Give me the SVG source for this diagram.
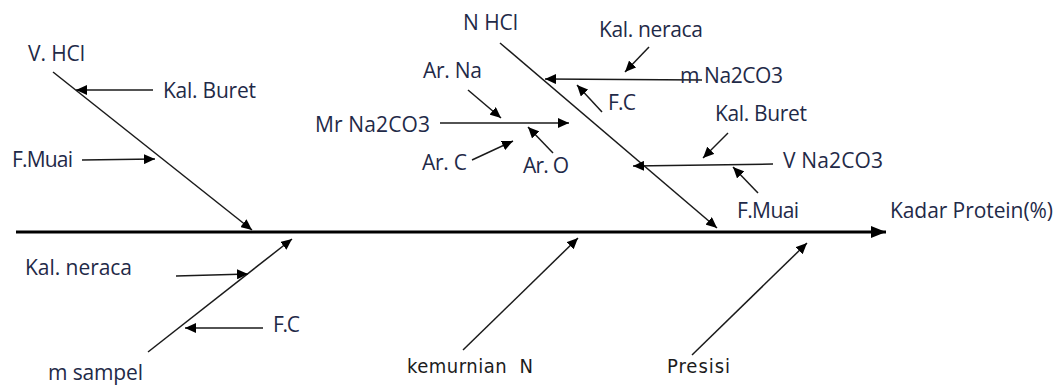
<svg xmlns="http://www.w3.org/2000/svg" width="1063" height="385" viewBox="0 0 1063 385">
<style>
text{font-family:"Open Sans","Liberation Sans",Arial,sans-serif;font-size:21px;fill:#1f2a48}
.b{font-family:"DejaVu Sans Condensed","Liberation Sans Narrow","Liberation Sans",sans-serif;fill:#1c1c1c;font-size:20px}
.c{stroke:#1a1a1a;stroke-width:1.5;fill:none;marker-end:url(#ah)}
.spine{stroke:#000;stroke-width:3;fill:none;marker-end:url(#big)}
</style>
<defs>
<marker id="ah" markerUnits="userSpaceOnUse" markerWidth="12" markerHeight="10" refX="11" refY="5" orient="auto">
<path d="M0,0 L11,5 L0,10 z" fill="#000"/>
</marker>
<marker id="big" markerUnits="userSpaceOnUse" markerWidth="16" markerHeight="12" refX="15" refY="6" orient="auto">
<path d="M0,0 L15,6 L0,12 z" fill="#000"/>
</marker>
</defs>
<rect width="1063" height="385" fill="#fff"/>
<g id="connectors">
<line class="spine" x1="16" y1="232" x2="886" y2="232"/>
<line class="c" x1="53" y1="72" x2="252" y2="230"/>
<line class="c" x1="153" y1="90" x2="76" y2="90"/>
<line class="c" x1="82" y1="160" x2="155" y2="159"/>
<line class="c" x1="500" y1="43" x2="717" y2="228"/>
<line class="c" x1="702" y1="80" x2="545" y2="79"/>
<line class="c" x1="649" y1="47" x2="625" y2="72"/>
<line class="c" x1="602" y1="112" x2="577" y2="85"/>
<line class="c" x1="440" y1="123" x2="569" y2="123"/>
<line class="c" x1="468" y1="90" x2="501" y2="118"/>
<line class="c" x1="472" y1="160" x2="513" y2="141"/>
<line class="c" x1="553" y1="153" x2="528" y2="127"/>
<line class="c" x1="773" y1="164" x2="633" y2="166"/>
<line class="c" x1="728" y1="133" x2="703" y2="158"/>
<line class="c" x1="758" y1="193" x2="733" y2="167"/>
<line class="c" x1="148" y1="352" x2="292" y2="239"/>
<line class="c" x1="176" y1="276" x2="248" y2="274"/>
<line class="c" x1="263" y1="328" x2="185" y2="328"/>
<line class="c" x1="463" y1="350" x2="578" y2="238"/>
<line class="c" x1="692" y1="355" x2="807" y2="243"/>
</g>
<g id="n-vhcl"><text x="28" y="61" textLength="57">V. HCl</text></g>
<g id="n-kalburet-l"><text x="163" y="98" textLength="93">Kal. Buret</text></g>
<g id="n-fmuai-l"><text x="12" y="167" textLength="61">F.Muai</text></g>
<g id="n-nhcl"><text x="463" y="30" textLength="55">N HCl</text></g>
<g id="n-kalneraca-t"><text x="599" y="37" textLength="104">Kal. neraca</text></g>
<g id="n-mna2co3"><text x="680" y="83" textLength="103">m Na2CO3</text></g>
<g id="n-fc-t"><text x="608" y="110" textLength="28">F.C</text></g>
<g id="n-arna"><text x="423" y="78" textLength="59">Ar. Na</text></g>
<g id="n-mrna2co3"><text x="315" y="132" textLength="115">Mr Na2CO3</text></g>
<g id="n-arc"><text x="422" y="170" textLength="45">Ar. C</text></g>
<g id="n-aro"><text x="523" y="173" textLength="46">Ar. O</text></g>
<g id="n-kalburet-r"><text x="715" y="121" textLength="92">Kal. Buret</text></g>
<g id="n-vna2co3"><text x="783" y="168" textLength="100">V Na2CO3</text></g>
<g id="n-fmuai-r"><text x="737" y="218" textLength="62">F.Muai</text></g>
<g id="n-kadar"><text x="890" y="218" textLength="163">Kadar Protein(%)</text></g>
<g id="n-kalneraca-b"><text x="25" y="275" textLength="107">Kal. neraca</text></g>
<g id="n-fc-b"><text x="273" y="332" textLength="27">F.C</text></g>
<g id="n-msampel"><text x="48" y="380" textLength="95">m sampel</text></g>
<g id="n-kemurnian"><text class="b" x="407" y="373" textLength="126" xml:space="preserve">kemurnian  N</text></g>
<g id="n-presisi"><text class="b" x="667" y="373" textLength="63">Presisi</text></g>
</svg>
